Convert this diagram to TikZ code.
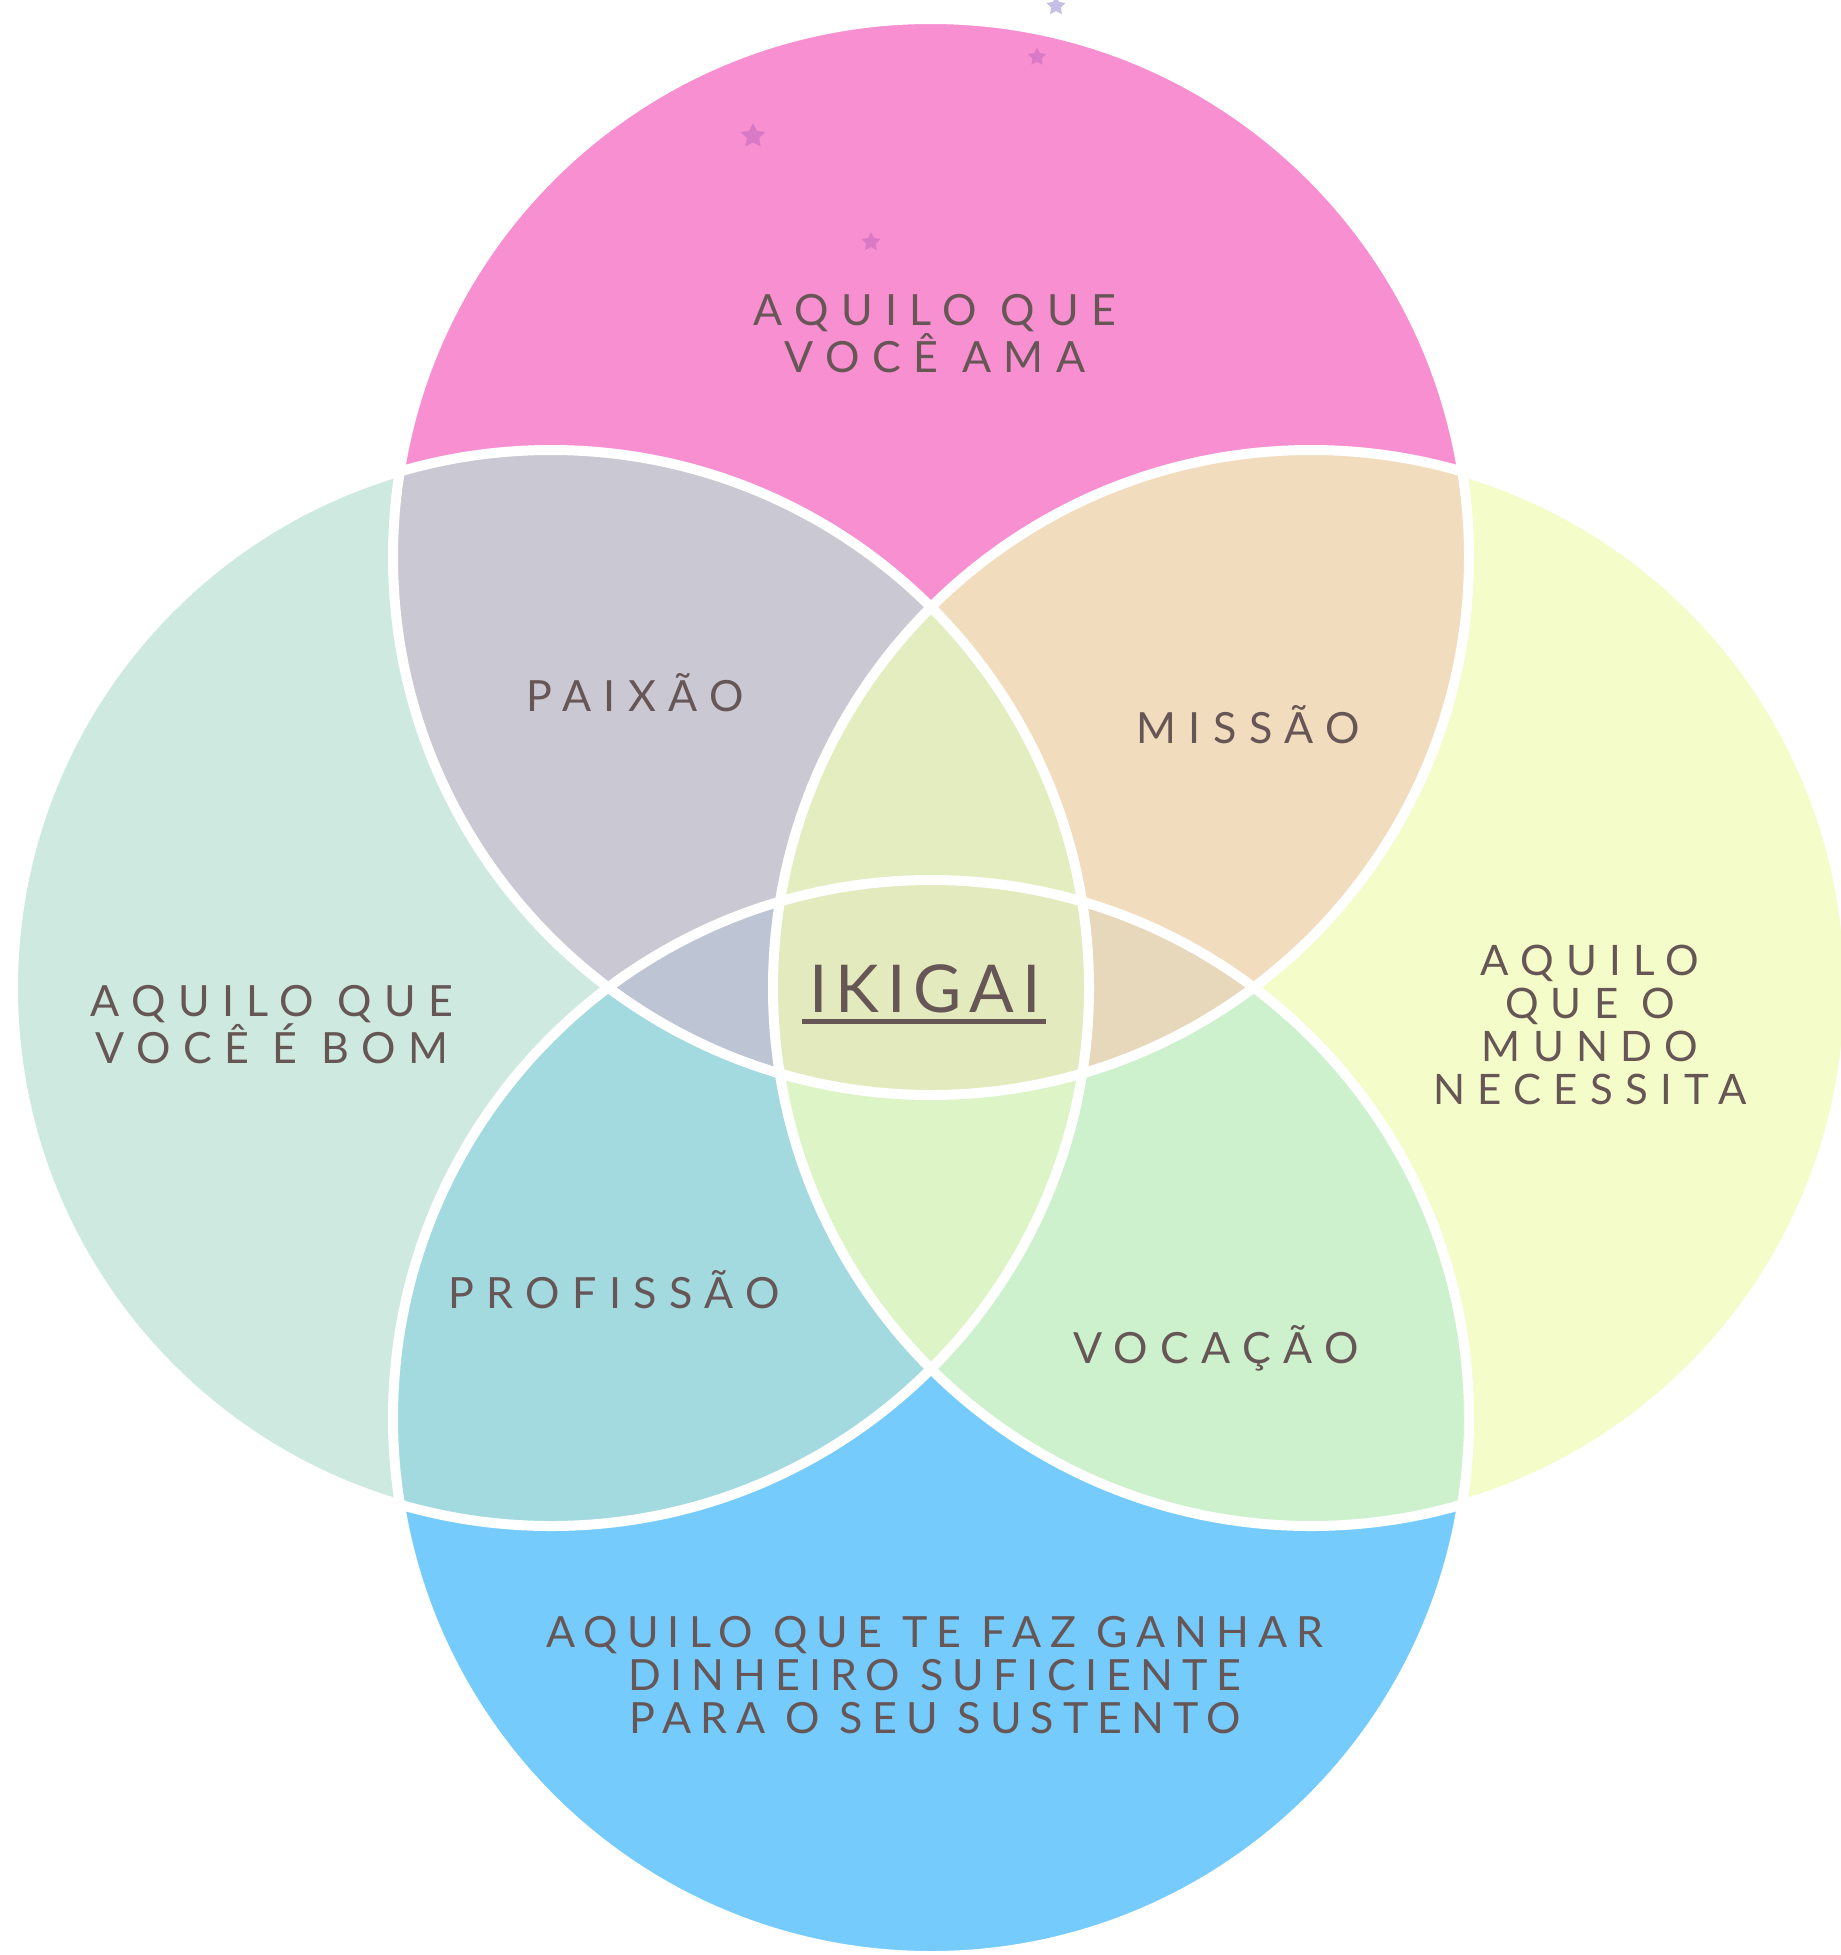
\documentclass[tikz,border=0pt]{standalone}
\usepackage{fontspec}
\usepackage{tikz}
\usetikzlibrary{shapes.geometric}
\newfontfamily\handfont[LetterSpace=29]{Lato}
\newfontfamily\handfontn[LetterSpace=21]{Lato}
\newfontfamily\titlefont[LetterSpace=12]{Lato}
\definecolor{cTxt}{HTML}{675656}
\definecolor{cTopF}{HTML}{F78FD0}
\definecolor{cLftF}{HTML}{CEE9E0}
\definecolor{cRgtF}{HTML}{F4FDCA}
\definecolor{cBotF}{HTML}{76CBFD}
\definecolor{cTLF}{HTML}{CAC8D2}
\definecolor{cTRF}{HTML}{F2DCBE}
\definecolor{cBLF}{HTML}{A3DAE0}
\definecolor{cBRF}{HTML}{CDF0CD}
\definecolor{cLRTF}{HTML}{E4EDC0}
\definecolor{cLRBF}{HTML}{DCF4C6}
\definecolor{cTBLF}{HTML}{BDC5D4}
\definecolor{cTBRF}{HTML}{E7D8BB}
\definecolor{cAllF}{HTML}{E3EBBE}
\definecolor{cStarA}{HTML}{D97AC6}
\definecolor{cStarB}{HTML}{C6BEE6}
\newcommand{\ckR}{538}

\begin{document}
\begin{tikzpicture}[x=0.5pt,y=-0.5pt,
  lbl/.style={font=\handfont\fontsize{21.5}{23.5}\selectfont,text=cTxt,align=center,inner sep=0pt},
  lbln/.style={font=\handfontn\fontsize{21.5}{21.5}\selectfont,text=cTxt,align=center,inner sep=0pt},
  ttl/.style={font=\titlefont\fontsize{33}{36}\selectfont,text=cTxt,inner sep=0pt},
  ring/.style={draw=white,line width=5pt},
  twinkle/.style={star,star points=5,star point ratio=2,inner sep=0pt,minimum size=#1}]

  \fill[white] (0,0) rectangle (1841,1955);
  \useasboundingbox (0,0) rectangle (1841,1955);

  \coordinate (cT) at (931,557);
  \coordinate (cB) at (931,1418);
  \coordinate (cL) at (551,988);
  \coordinate (cR) at (1311,988);

  \fill[cTopF] (cT) circle (\ckR);
  \fill[cLftF] (cL) circle (\ckR);
  \fill[cRgtF] (cR) circle (\ckR);
  \fill[cBotF] (cB) circle (\ckR);

  \begin{scope}
    \clip (cT) circle (\ckR);
    \fill[cTLF] (cL) circle (\ckR);
    \fill[cTRF] (cR) circle (\ckR);
  \end{scope}
  \begin{scope}
    \clip (cB) circle (\ckR);
    \fill[cBLF] (cL) circle (\ckR);
    \fill[cBRF] (cR) circle (\ckR);
  \end{scope}
  \begin{scope}
    \clip (cL) circle (\ckR);
    \fill[cLRTF] (cR) circle (\ckR);
    \clip (cR) circle (\ckR);
    \fill[cLRBF] (cB) circle (\ckR);
  \end{scope}
  \begin{scope}
    \clip (cT) circle (\ckR);
    \clip (cB) circle (\ckR);
    \fill[cTBLF] (cL) circle (\ckR);
    \fill[cTBRF] (cR) circle (\ckR);
    \clip (cL) circle (\ckR);
    \fill[cAllF] (cR) circle (\ckR);
  \end{scope}

  \draw[ring] (cT) circle (\ckR);
  \draw[ring] (cL) circle (\ckR);
  \draw[ring] (cR) circle (\ckR);
  \draw[ring] (cB) circle (\ckR);

  \node[twinkle=10pt,fill=cStarB] (s1) at (1056,6) {};
  \node[twinkle=9.5pt,fill=cStarA] (s2) at (1037,57) {};
  \node[twinkle=13pt,fill=cStarA] (s3) at (753,136) {};
  \node[twinkle=10pt,fill=cStarA] (s4) at (871,242) {};

  \node[lbl] (love) at (935,334) {AQUILO QUE\\VOCÊ AMA};
  \node[lbl] (passion) at (635,693) {PAIXÃO};
  \node[lbl] (mission) at (1248,725) {MISSÃO};
  \node[lbl] (good) at (272,1025) {AQUILO QUE\\VOCÊ É BOM};
  \node[lbl,font=\handfont\fontsize{21}{21.5}\selectfont] (world) at (1590,1025)
    {AQUILO\\QUE O\\MUNDO\\NECESSITA};
  \node[lbl] (prof) at (614,1290) {PROFISSÃO};
  \node[lbl] (voc) at (1216,1348) {VOCAÇÃO};
  \node[lbln] (paid) at (935,1675)
    {AQUILO QUE TE FAZ GANHAR\\DINHEIRO SUFICIENTE\\PARA O SEU SUSTENTO};

  \node[ttl] (ikigai) at (925,989) {IKIGAI};
  \draw[cTxt,line width=2.5pt] ([shift={(-7,8)}]ikigai.south west) -- ([shift={(5,8)}]ikigai.south east);
\end{tikzpicture}
\end{document}
